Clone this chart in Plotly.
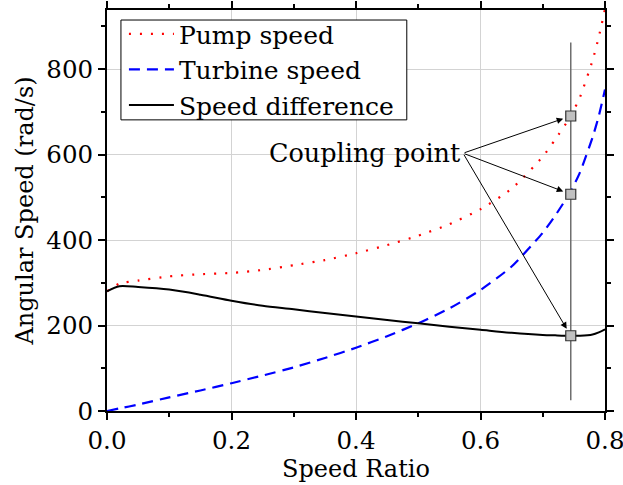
import plotly.graph_objects as go

ratio = [0, 0.02, 0.05, 0.1, 0.15, 0.2, 0.25, 0.3, 0.35, 0.4, 0.45, 0.5, 0.55, 0.6,
         0.65, 0.7, 0.72, 0.745, 0.76, 0.78, 0.79, 0.8]
pump = [280, 298, 305, 315, 320, 323, 330, 341, 353, 369, 388, 410, 437, 472,
        520, 595, 635, 690, 735, 820, 875, 940]
turbine = [0, 6, 15, 32, 48, 65, 83, 102, 124, 148, 175, 205, 240, 283,
           338, 417, 457, 514, 559, 640, 690, 752]
difference = [280, 292, 290, 284, 272, 258, 246, 238, 229, 221, 213, 205, 197, 190,
              183, 178, 177, 176, 176, 179, 184, 191]

x_ticks = [0.0, 0.2, 0.4, 0.6, 0.8]
x_tick_labels = ["0.0", "0.2", "0.4", "0.6", "0.8"]
y_ticks = [0, 200, 400, 600, 800]

coupling_ratio = 0.745
coupling_values = [690, 507, 176]
coupling_line = [25, 862]
label_pos = (0.572, 603)

FONT = "DejaVu Serif"

fig = go.Figure()
fig.add_trace(go.Scatter(x=ratio, y=pump, mode="lines", name="Pump speed",
                         line=dict(color="#ff0000", width=2.2, dash="2px,9px",
                                   shape="spline", smoothing=0.6)))
fig.add_trace(go.Scatter(x=ratio, y=turbine, mode="lines", name="Turbine speed",
                         line=dict(color="#0000ff", width=2.2, dash="11px,7px",
                                   shape="spline", smoothing=0.6)))
fig.add_trace(go.Scatter(x=ratio, y=difference, mode="lines", name="Speed difference",
                         line=dict(color="#000000", width=2, shape="spline", smoothing=0.8)))
fig.add_trace(go.Scatter(x=[coupling_ratio, coupling_ratio], y=coupling_line, mode="lines",
                         line=dict(color="#6e6e6e", width=1.5), showlegend=False,
                         hoverinfo="skip"))
fig.add_trace(go.Scatter(x=[coupling_ratio] * len(coupling_values), y=coupling_values,
                         mode="markers", showlegend=False,
                         marker=dict(symbol="square", size=10, color="#c0c0c0",
                                     line=dict(color="#333333", width=1.2))))

for v in coupling_values:
    fig.add_annotation(x=coupling_ratio, y=v, ax=label_pos[0], ay=label_pos[1],
                       xref="x", yref="y", axref="x", ayref="y", text="",
                       showarrow=True, arrowhead=2, arrowsize=1.3, arrowwidth=1,
                       arrowcolor="black", standoff=8)
fig.add_annotation(x=label_pos[0], y=label_pos[1], xref="x", yref="y",
                   text="Coupling point", showarrow=False, xanchor="right",
                   yanchor="middle", font=dict(family=FONT, size=25.5, color="black"))

# legend frame (opaque box behind the legend entries)
fig.add_shape(type="rect", xref="paper", yref="paper", x0=0.028, x1=0.602, y0=0.726, y1=0.975,
              line=dict(color="black", width=1), fillcolor="white", layer="above")

axis_common = dict(showline=True, linecolor="black", linewidth=2, mirror="ticks",
                   ticks="outside", ticklen=7, tickwidth=1.5, tickcolor="black",
                   showgrid=True, gridcolor="#d3d3d3", gridwidth=1, zeroline=False,
                   automargin=False, ticklabeloverflow="allow",
                   tickfont=dict(family=FONT, size=24.5, color="black"))

fig.update_xaxes(range=[0, 0.8], tickmode="array", tickvals=x_ticks, ticktext=x_tick_labels,
                 minor=dict(tickvals=[0.1, 0.3, 0.5, 0.7], ticks="outside", ticklen=4,
                            tickcolor="black", showgrid=False),
                 title=dict(text="Speed Ratio", font=dict(family=FONT, size=24, color="black"),
                            standoff=6),
                 **axis_common)
fig.update_yaxes(range=[0, 938], tickmode="array", tickvals=y_ticks,
                 minor=dict(tickvals=[100, 300, 500, 700, 900], ticks="outside", ticklen=4,
                            tickcolor="black", showgrid=False),
                 title=dict(text="Angular Speed (rad/s)",
                            font=dict(family=FONT, size=24, color="black"), standoff=6),
                 **axis_common)

fig.update_layout(
    width=623, height=485,
    margin=dict(l=107, r=18, t=10, b=74),
    paper_bgcolor="white", plot_bgcolor="white",
    font=dict(family=FONT, size=24, color="black"),
    legend=dict(x=0.034, y=0.997, xanchor="left", yanchor="top",
                bgcolor="rgba(0,0,0,0)", borderwidth=0,
                font=dict(family=FONT, size=25, color="black"),
                itemwidth=45, tracegroupgap=0),
    showlegend=True,
)

fig.write_html("out.html")
